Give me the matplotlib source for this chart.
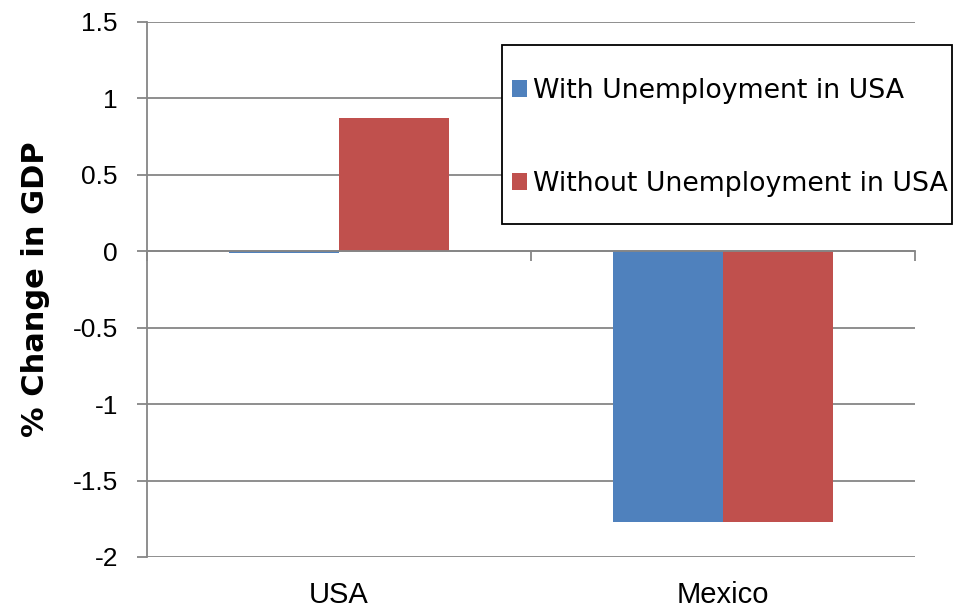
import matplotlib.pyplot as plt
from matplotlib.patches import Rectangle
import numpy as np

# data
countries = ['USA', 'Mexico']
with_unemp = [-0.01, -1.77]
without_unemp = [0.87, -1.77]
series_labels = ['With Unemployment in USA', 'Without Unemployment in USA']
yticks = [-2, -1.5, -1, -0.5, 0, 0.5, 1, 1.5]

blue = '#4F81BD'
red = '#C0504D'
grid_gray = '#868686'

fig = plt.figure(figsize=(9.55, 6.10), dpi=100)
ax = fig.add_axes([0.154, 0.087, 0.804, 0.877])

x = np.arange(len(countries))
w = 0.286
ax.bar(x - w / 2, with_unemp, w, color=blue, label=series_labels[0], zorder=3)
ax.bar(x + w / 2, without_unemp, w, color=red, label=series_labels[1], zorder=3)

ax.set_xlim(-0.5, len(countries) - 0.5)
ax.set_ylim(-2, 1.5)
ax.set_yticks(yticks)
ax.set_yticklabels([f'{v:g}' for v in yticks], family='Liberation Sans', fontsize=19)
ax.tick_params(axis='y', length=7, width=1.3, color=grid_gray, pad=14)
ax.yaxis.grid(True, color=grid_gray, linewidth=1.3, zorder=0)

# x axis line sits at zero, ticks between categories
for s in ['top', 'right']:
    ax.spines[s].set_visible(False)
ax.spines['left'].set_color(grid_gray)
ax.spines['left'].set_linewidth(1.3)
ax.spines['bottom'].set_position(('data', 0))
ax.spines['bottom'].set_color(grid_gray)
ax.spines['bottom'].set_linewidth(1.3)
ax.spines['bottom'].set_zorder(4)
ax.set_xticks(np.arange(len(countries) + 1) - 0.5)
ax.set_xticklabels([])
ax.tick_params(axis='x', length=7, width=1.3, color=grid_gray)

for xi, name in zip(x, countries):
    ax.text(xi, -0.045, name, transform=ax.get_xaxis_transform(), ha='center', va='top',
            family='Liberation Sans', fontsize=21)

ax.set_ylabel('% Change in GDP', fontsize=22, fontweight='bold', family='DejaVu Sans', labelpad=16)

# legend box (frame drawn separately so it can be taller than its content)
lx0, ly0, lw, lh = 502 / 955, 1 - 224 / 610, 450 / 955, 179 / 610
fig.patches.append(Rectangle((lx0, ly0), lw, lh, transform=fig.transFigure,
                             facecolor='white', edgecolor='black', linewidth=1.3, zorder=5))
leg = fig.legend(loc='center left', bbox_to_anchor=(lx0, ly0 - 3 / 610, lw, lh),
                 bbox_transform=fig.transFigure, frameon=False,
                 fontsize=19.3, handlelength=0.56, handleheight=0.56, handletextpad=0.22,
                 labelspacing=2.5, borderaxespad=0, borderpad=0.37)
leg.set_zorder(6)

plt.savefig('out.png', dpi=100)
